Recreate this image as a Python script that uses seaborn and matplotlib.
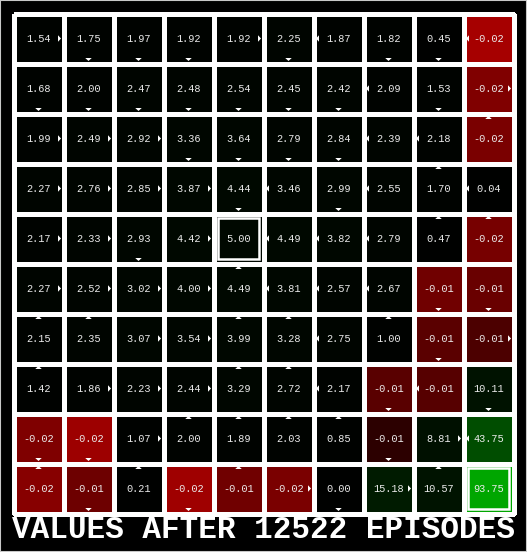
import numpy as np
import pandas as pd
import matplotlib
matplotlib.use("Agg")
import matplotlib.pyplot as plt
import seaborn as sns
from matplotlib.colors import LinearSegmentedColormap, TwoSlopeNorm
from matplotlib.patches import Polygon, Rectangle

# ---- data (rows top -> bottom, cols left -> right) ----
values = [
    [1.54, 1.75, 1.97, 1.92, 1.92, 2.25, 1.87, 1.82, 0.45, -0.0220],
    [1.68, 2.00, 2.47, 2.48, 2.54, 2.45, 2.42, 2.09, 1.53, -0.0170],
    [1.99, 2.49, 2.92, 3.36, 3.64, 2.79, 2.84, 2.39, 2.18, -0.0160],
    [2.27, 2.76, 2.85, 3.87, 4.44, 3.46, 2.99, 2.55, 1.70, 0.04],
    [2.17, 2.33, 2.93, 4.42, 5.00, 4.49, 3.82, 2.79, 0.47, -0.0157],
    [2.27, 2.52, 3.02, 4.00, 4.49, 3.81, 2.57, 2.67, -0.0148, -0.0138],
    [2.15, 2.35, 3.07, 3.54, 3.99, 3.28, 2.75, 1.00, -0.0120, -0.0100],
    [1.42, 1.86, 2.23, 2.44, 3.29, 2.72, 2.17, -0.0117, -0.0114, 10.11],
    [-0.0167, -0.0207, 1.07, 2.00, 1.89, 2.03, 0.85, -0.0058, 8.81, 43.75],
    [-0.0178, -0.0143, 0.21, -0.0210, -0.0148, -0.0160, 0.00, 15.18, 10.57, 93.75],
]

policy = [
    ["E", "S", "S", "S", "E", "S", "W", "S", "S", "W"],
    ["S", "S", "S", "S", "S", "S", "S", "W", "S", "E"],
    ["E", "E", "E", "S", "S", "S", "S", "W", "W", "N"],
    ["E", "E", "E", "E", "S", "W", "S", "W", "N", "W"],
    ["E", "E", "S", "E", "",  "W", "W", "W", "N", "N"],
    ["E", "E", "E", "E", "N", "W", "W", "W", "S", "S"],
    ["N", "N", "E", "E", "N", "N", "W", "N", "S", "E"],
    ["N", "E", "E", "E", "N", "N", "W", "S", "W", "S"],
    ["S", "S", "E", "N", "N", "N", "N", "S", "E", "W"],
    ["N", "S", "N", "S", "N", "E", "S", "E", "N", ""],
]

terminal_rows = [4, 9]
terminal_cols = [4, 9]

episodes = 12522
title = f"VALUES AFTER {episodes} EPISODES"

# ---- figure ----
W, H = 527, 552
fig = plt.figure(figsize=(W / 100, H / 100), dpi=100, facecolor="black")
grid_left, grid_top, grid_size = 13.5, 13.5, 500.0
ax = fig.add_axes([grid_left / W, (H - grid_top - grid_size) / H,
                   grid_size / W, grid_size / H])
ax.set_facecolor("black")

df = pd.DataFrame(values)
vals = df.values
cmap = LinearSegmentedColormap.from_list(
    "gw", [(0.0, (0.65, 0, 0)), (0.5, (0, 0, 0)), (1.0, (0, 0.65, 0))])
norm = TwoSlopeNorm(vmin=vals.min(), vcenter=0.0, vmax=vals.max())

sns.heatmap(df, ax=ax, cmap=cmap, norm=norm, cbar=False,
            linewidths=2.2, linecolor="white",
            annot=True, fmt=".2f",
            annot_kws={"color": "#ececec", "fontsize": 7.4,
                       "family": "Liberation Mono"},
            xticklabels=False, yticklabels=False)
for coll in ax.collections:
    coll.set_clip_on(False)
ax.set_axis_off()

# policy arrows
tip, base, hw = 0.45, 0.39, 0.065
for r, row in enumerate(policy):
    for c, a in enumerate(row):
        if not a:
            continue
        cx, cy = c + 0.5, r + 0.5
        if a == "N":
            pts = [(cx, cy - tip), (cx - hw, cy - base), (cx + hw, cy - base)]
        elif a == "S":
            pts = [(cx, cy + tip), (cx - hw, cy + base), (cx + hw, cy + base)]
        elif a == "E":
            pts = [(cx + tip, cy), (cx + base, cy - hw), (cx + base, cy + hw)]
        else:
            pts = [(cx - tip, cy), (cx - base, cy - hw), (cx - base, cy + hw)]
        ax.add_patch(Polygon(pts, closed=True, facecolor="white",
                             edgecolor="none", zorder=5))

# terminal inner squares
for r, c in zip(terminal_rows, terminal_cols):
    ax.add_patch(Rectangle((c + 0.09, r + 0.09), 0.82, 0.82, fill=False,
                           edgecolor="white", linewidth=1.8, zorder=6,
                           clip_on=False))

fig.text(0.5, (H - 538) / H, title, ha="center", va="baseline",
         color="white", fontsize=22.3, fontweight="bold",
         family="Liberation Mono")

# outer light frame
fig.add_artist(Rectangle((0, 0), 1, 1, transform=fig.transFigure,
                         fill=False, edgecolor="#c8c8c8", linewidth=1.5))

fig.savefig("out.png", dpi=100, facecolor="black")
